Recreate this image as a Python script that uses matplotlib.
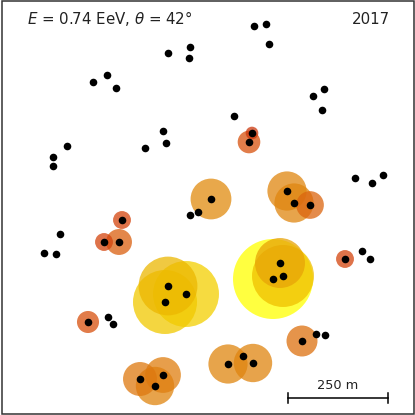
import numpy as np
import matplotlib
matplotlib.use('Agg')
import matplotlib.pyplot as plt
from matplotlib.patches import Circle, Rectangle
from matplotlib.colors import LinearSegmentedColormap, LogNorm

# detector positions (m) and signals (0 = no signal)
det_x = [635, 665, 672.5, 420, 475, 472.5, 232.5, 267.5, 290, 782.5, 810, 805,
         585, 630, 622.5, 407.5, 415, 362.5, 167.5, 132.5, 132.5, 887.5, 930, 957.5,
         527.5, 495, 475, 717.5, 735, 775, 305, 260, 297.5, 150, 110, 140,
         862.5, 905, 925, 700, 707.5, 682.5, 420, 465, 412.5, 220, 270, 282.5,
         755, 790, 812.5, 350, 407.5, 387.5, 570, 607.5, 632.5]
det_y = [972.5, 977.5, 927.5, 905, 920, 892.5, 832.5, 850, 817.5, 797.5, 815, 762.5,
         747.5, 705, 682.5, 710, 680, 667.5, 672.5, 645, 622.5, 592.5, 580, 600,
         540, 507.5, 500, 560, 530, 525, 487.5, 432.5, 432.5, 452.5, 405, 402.5,
         390, 410, 390, 380, 347.5, 340, 322.5, 302.5, 282.5, 232.5, 245, 227.5,
         185, 202.5, 200, 90, 100, 72.5, 127.5, 147.5, 130]
signal = [0, 0, 0, 0, 0, 0, 0, 0, 0, 0, 0, 0,
          0, 2.5, 8, 0, 0, 0, 0, 0, 0, 0, 0, 0,
          26, 0, 0, 24, 24, 12, 5, 5, 10.5, 0, 0, 0,
          5, 0, 0, 39, 60, 100, 54, 68, 64, 7.6, 0, 0,
          15, 0, 0, 18, 20, 23, 24, 0, 23]

energy = 0.74
zenith = 42
year = 2017
scale_len = 250

cmap = LinearSegmentedColormap.from_list('sig', [
    (0.0, (0.80, 0.22, 0.05)),
    (0.25, (0.84, 0.28, 0.05)),
    (0.62, (0.88, 0.53, 0.06)),
    (0.85, (0.93, 0.73, 0.0)),
    (1.0, (1.0, 1.0, 0.0))])
norm = LogNorm(vmin=2.5, vmax=100)

fig = plt.figure(figsize=(4.15, 4.15), dpi=100)
ax = fig.add_axes([0, 0, 1, 1])
ax.set_xlim(0, 1037.5)
ax.set_ylim(0, 1037.5)
ax.set_aspect('equal')
ax.axis('off')

# circles, biggest first
order = np.argsort(signal)[::-1]
for i in order:
    s = signal[i]
    if s <= 0:
        continue
    r = 10 * np.sqrt(s)
    ax.add_patch(Circle((det_x[i], det_y[i]), r, facecolor=cmap(norm(s)),
                        edgecolor='none', alpha=0.75, zorder=2))

ax.scatter(det_x, det_y, s=30, color='black', zorder=3, linewidths=0)

# scale bar
x0, y0 = 720, 42.5
ax.plot([x0, x0 + scale_len], [y0, y0], color='black', lw=1.1, zorder=4)
ax.plot([x0, x0], [y0 - 12, y0 + 12], color='black', lw=1.1, zorder=4)
ax.plot([x0 + scale_len, x0 + scale_len], [y0 - 12, y0 + 12], color='black', lw=1.1, zorder=4)
ax.text(x0 + scale_len / 2, 65, f'{scale_len} m', ha='center', va='baseline',
        fontsize=9.3, color='#222222')

fig.text(27 / 415, 1 - 24 / 415, rf'$E$ = {energy} EeV, $\theta$ = {zenith}°',
         ha='left', va='baseline', fontsize=10.8, color='#222222')
fig.text(390 / 415, 1 - 24 / 415, f'{year}', ha='right', va='baseline',
         fontsize=10.8, color='#222222')

fig.patches.append(Rectangle((1.5 / 415, 1.5 / 415), 412 / 415, 412 / 415,
                             transform=fig.transFigure, fill=False,
                             edgecolor='#333333', lw=1.1))

fig.savefig('out.png', dpi=100)
